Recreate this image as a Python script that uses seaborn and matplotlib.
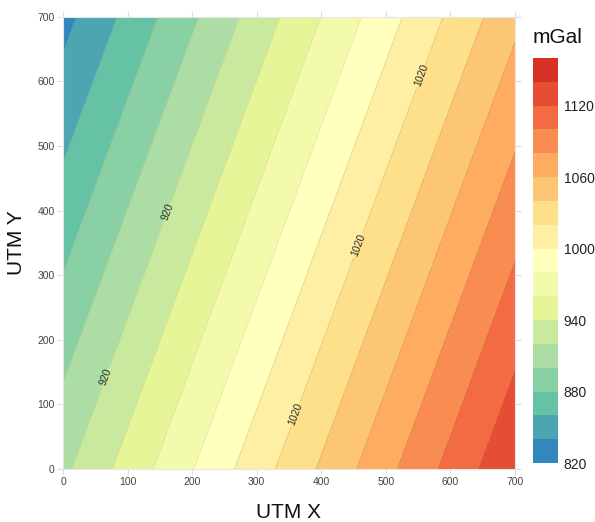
import numpy as np
import matplotlib
matplotlib.use("Agg")
import matplotlib.pyplot as plt
import seaborn as sns

# Gravity field (mGal) at the four corners of the survey square (UTM metres)
corner_x = [0, 700]
corner_y = [0, 700]
gravity = [[915.7, 1137.7],   # y = 0
           [833.3, 1055.3]]   # y = 700

levels = list(range(820, 1161, 20))
cbar_ticks = [820, 880, 940, 1000, 1060, 1120]
axis_ticks = [0, 100, 200, 300, 400, 500, 600, 700]
labelled_levels = [920, 1020]
label_spots = [(65, 143), (163, 398), (357, 86), (457, 347), (553, 610)]

ramp = ["#3288bd", "#66c2a5", "#abdda4", "#e6f598", "#ffffbf",
        "#fee08b", "#fdae61", "#f46d43", "#d73027"]

sns.set_theme(style="white")
plt.rcParams["font.family"] = ["Liberation Sans", "DejaVu Sans"]

band_colors = sns.blend_palette(ramp, n_colors=len(levels) - 1)

fig = plt.figure(figsize=(5.95, 5.22), dpi=100)
ax = fig.add_axes([0.1059, 0.1015, 0.7596, 0.8665])
cax = fig.add_axes([0.8958, 0.113, 0.042, 0.776])

X, Y = np.meshgrid(corner_x, corner_y)
Z = np.array(gravity)

cf = ax.contourf(X, Y, Z, levels=levels, colors=band_colors)
line_levels = [lv for lv in levels if lv not in labelled_levels]
ax.contour(X, Y, Z, levels=line_levels, colors="#8a8060",
           linewidths=0.4, alpha=0.3)
cl = ax.contour(X, Y, Z, levels=labelled_levels, colors="#8a8060",
                linewidths=0.4, alpha=0.3)
labels = ax.clabel(cl, manual=label_spots, inline=True, inline_spacing=2,
                   fontsize=7.5, fmt="%d")
for t in labels:
    t.set_color("#2a2a2a")
    t.set_alpha(1.0)

ax.set_xlim(0, 700)
ax.set_ylim(0, 700)
ax.set_xticks(axis_ticks)
ax.set_yticks(axis_ticks)
ax.tick_params(axis="both", which="both", direction="out", length=4,
               width=0.8, color="#dddddd", labelsize=7.5,
               labelcolor="#444444", pad=2,
               top=True, right=True, bottom=True, left=True)
for sp in ax.spines.values():
    sp.set_color("#e6e6e6")
    sp.set_linewidth(0.8)

ax.set_xlabel("UTM X", fontsize=15, color="#111111", labelpad=11)
ax.set_ylabel("UTM Y", fontsize=15, color="#111111", labelpad=8)

cb = fig.colorbar(cf, cax=cax, ticks=cbar_ticks)
cb.outline.set_visible(False)
cax.tick_params(length=0, labelsize=10, labelcolor="#222222", pad=4)
fig.text(533 / 595, 1 - 43 / 522, "mGal", fontsize=15, color="#111111",
         ha="left", va="baseline")

fig.savefig("out.png", dpi=100)
